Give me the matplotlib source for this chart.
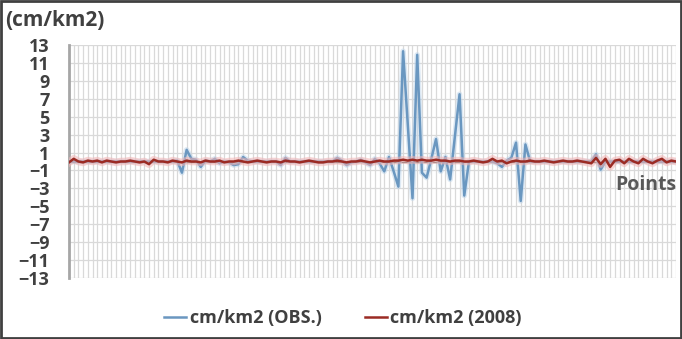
import matplotlib.pyplot as plt
import matplotlib.patches as mpatches
import numpy as np

# Data, one value per point
obs = [0.0] * 22 + [
    0.0, 0.1, -1.25, 1.3, 0.3, 0.2, -0.6, 0.1, 0.0, 0.3,       # 22-31
    -0.2, 0.0, -0.1, -0.4, -0.3, 0.5, 0.1, 0.0, 0.0, 0.0,      # 32-41
    0.0, 0.0, 0.0, -0.4, 0.4, 0.0, 0.0, 0.0, 0.0, 0.0,         # 42-51
    0.0, 0.0, 0.0, 0.0, 0.0, 0.4, 0.1, -0.4, -0.1, 0.0,        # 52-61
    0.2, -0.1, -0.4, 0.3, -0.2, -1.1, 0.5, -1.1, -2.8, 12.3,   # 62-71
    4.1, -4.1, 11.9, -1.25, -1.8, 0.3, 2.5, -1.1, 0.5, -2.0,   # 72-81
    2.7, 7.5, -3.8, 0.0, 0.0, 0.0, 0.0, 0.0, 0.0, -0.2,        # 82-91
    -0.6, 0.1, 0.4, 2.1, -4.4, 1.9, 0.0, 0.0, 0.0, 0.0,        # 92-101
    0.0, 0.0, 0.0, 0.0, 0.0, 0.0, 0.0, 0.0, 0.0, 0.0,          # 102-111
    0.8, -0.9, 0.0, 0.0, 0.0, 0.0, 0.0, 0.0, 0.0, 0.0,         # 112-121
    0.0, 0.0, 0.0, 0.0, 0.0, 0.0, 0.0, 0.0,                    # 122-129
]
y2008 = [
    -0.1, 0.3, 0.0, -0.1, 0.1, 0.0, 0.1, -0.1, 0.1, 0.0,
    -0.1, 0.0, 0.0, 0.1, 0.0, -0.1, 0.0, -0.3, 0.2, 0.0,
    0.0, -0.1, 0.1, 0.0, -0.1, 0.1, 0.0, 0.0, -0.1, 0.1,
    0.0, 0.0, 0.1, -0.1, 0.0, 0.0, 0.1, 0.0, -0.1, 0.0,
    0.1, 0.0, -0.1, 0.0, 0.0, -0.1, 0.1, 0.0, 0.0, -0.1,
    0.0, 0.1, 0.0, -0.1, -0.1, 0.0, 0.0, 0.1, 0.0, -0.1,
    0.0, 0.0, 0.1, 0.0, -0.1, 0.0, 0.1, 0.0, 0.0, 0.1,
    0.1, 0.2, 0.1, 0.2, 0.1, 0.2, 0.1, 0.1, 0.2, 0.1,
    0.1, 0.0, 0.1, 0.1, 0.0, 0.0, 0.1, 0.0, -0.1, 0.0,
    0.3, 0.0, 0.1, -0.2, 0.0, 0.1, 0.0, 0.0, 0.1, 0.0,
    0.0, 0.1, 0.0, -0.1, 0.0, 0.1, 0.0, 0.0, 0.1, 0.0,
    -0.1, -0.2, 0.4, -0.3, 0.3, -0.6, 0.1, 0.2, -0.2, 0.3,
    0.0, -0.2, 0.3, 0.0, -0.2, 0.1, 0.3, -0.1, 0.1, 0.0,
]
yticks = list(range(-13, 14, 2))
labels = ['cm/km2 (OBS.)', 'cm/km2 (2008)']

W, H = 682, 339
fig = plt.figure(figsize=(W / 100, H / 100), dpi=100)
ax = fig.add_axes([69 / W, 1 - 278 / H, (676 - 69) / W, (278 - 45) / H])

x = np.arange(len(obs))
ax.set_xlim(0, len(obs) - 1)
ax.set_ylim(-13, 13)

# gridlines
ax.set_xticks(x)
ax.set_yticks(yticks)
ax.grid(True, color='#d9d9d9', lw=0.9)
ax.set_axisbelow(True)
ax.tick_params(axis='x', length=0, labelbottom=False)
ax.tick_params(axis='y', length=0, pad=14, labelsize=13, labelcolor='#404040')
for t in ax.get_yticklabels():
    t.set_fontfamily('Open Sans')
    t.set_fontweight('bold')

for s in ['top', 'right', 'bottom']:
    ax.spines[s].set_visible(False)
ax.spines['left'].set_color('#a6a6a6')
ax.spines['left'].set_linewidth(2)

# horizontal axis at zero
ax.axhline(0, color='#595959', lw=1, zorder=2)

# lines with soft glow
ax.plot(x, obs, color='#bcd4ea', lw=4, alpha=0.5, zorder=3, solid_joinstyle='round')
l1, = ax.plot(x, obs, color='#6a97c0', lw=1.8, zorder=4, solid_joinstyle='round')
ax.plot(x, y2008, color='#f4b4b4', lw=5.5, alpha=0.55, zorder=5, solid_joinstyle='round')
l2, = ax.plot(x, y2008, color='#9b2b24', lw=1.8, zorder=6, solid_joinstyle='round')

fig.text(5 / W, 1 - 21 / H, '(cm/km2)', fontfamily='Open Sans', fontweight='bold',
         fontsize=15, color='#404040', va='center', ha='left')
fig.text(676 / W, 1 - 185 / H, 'Points', fontfamily='Open Sans', fontweight='bold',
         fontsize=14, color='#595959', va='center', ha='right')

fig.legend([l1, l2], labels, loc='center', bbox_to_anchor=(343 / W, 1 - 318 / H),
           ncol=2, frameon=False, handlelength=1.2, handletextpad=0.2,
           columnspacing=2.4, prop={'family': 'Open Sans', 'weight': 'bold', 'size': 13},
           labelcolor='#404040')

# border round the picture
fig.patches.append(mpatches.Rectangle((0.001, 0.002), 0.997, 0.995, transform=fig.transFigure,
                                      fill=False, edgecolor='#404040', lw=2))

fig.savefig('out.png', dpi=100)
